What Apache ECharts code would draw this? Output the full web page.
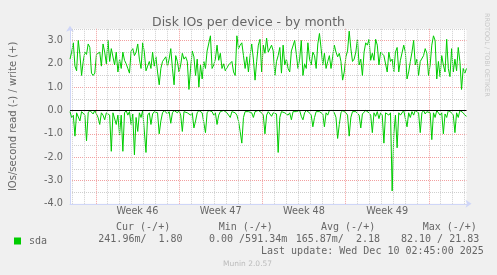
<!DOCTYPE html>
<html>
<head>
<meta charset="utf-8">
<script src="https://cdn.jsdelivr.net/npm/echarts@6/dist/echarts.min.js"></script>
<style>
html,body{margin:0;padding:0;background:#F0F0F0;}
#c{width:497px;height:275px;}
</style>
</head>
<body>
<div id="c"></div>
<script>
// time axis in hours relative to Monday of week 46 (Nov 10 2025 00:00)
const T0 = -52;            // first sample time (h)
const STEP = 10 / 3;       // sample spacing (h)
const X_MIN = -52, X_MAX = 748;

// write IOs/s (+)
const writeIOs = [
  2.2, 2.5, 2.9, 1.9, 1.7, 3.0, 2.4, 1.5, 2.1, 2.5,
  2.4, 2.85, 2.7, 1.6, 1.5, 1.6, 2.4, 2.4, 2.5, 1.9,
  2.85, 2.5, 2.0, 3.0, 2.1, 2.65, 2.7, 1.95, 2.5, 1.65,
  2.2, 1.8, 2.5, 2.15, 2.0, 1.8, 1.6, 2.55, 2.65, 2.35,
  2.5, 2.85, 2.2, 1.8, 2.9, 2.5, 1.7, 1.9, 2.1, 1.8,
  2.5, 1.9, 2.3, 1.65, 1.1, 1.8, 2.1, 2.2, 2.3, 1.9,
  2.2, 2.65, 1.8, 1.1, 2.35, 2.1, 1.65, 1.95, 2.45, 2.2,
  2.3, 2.1, 0.9, 1.8, 2.55, 2.3, 1.5, 2.2, 1.0, 1.95,
  1.35, 2.1, 1.8, 2.55, 2.5, 3.2, 1.8, 1.95, 2.2, 2.8,
  2.15, 2.45, 1.8, 2.0, 1.7, 1.65, 1.95, 1.95, 2.1, 1.65,
  1.5, 3.2, 2.65, 2.8, 2.9, 2.35, 1.8, 2.3, 1.65, 2.35,
  2.85, 2.2, 1.3, 2.1, 2.8, 3.05, 1.65, 2.8, 2.45, 3.1,
  2.5, 2.45, 2.8, 2.55, 1.5, 2.1, 2.35, 2.7, 1.6, 2.8,
  1.95, 2.2, 1.8, 1.65, 2.55, 2.5, 3.0, 2.4, 1.8, 2.2,
  3.0, 1.5, 2.0, 1.8, 2.9, 2.2, 1.95, 2.5, 2.35, 1.8,
  2.85, 3.3, 2.65, 1.95, 2.45, 1.8, 2.1, 2.35, 1.8, 2.3,
  2.8, 2.5, 2.3, 2.45, 2.1, 1.3, 1.65, 2.3, 2.55, 3.4,
  2.65, 2.1, 2.2, 2.5, 3.05, 1.95, 2.2, 1.5, 2.5, 2.9,
  2.8, 3.05, 2.15, 2.45, 2.15, 3.05, 2.8, 1.95, 2.5, 2.55,
  2.35, 2.4, 1.65, 2.5, 2.1, 2.2, 1.65, 2.5, 2.7, 1.65,
  2.15, 2.15, 2.8, 2.5, 1.35, 1.65, 2.1, 2.5, 3.0, 1.95,
  2.2, 1.5, 2.1, 2.15, 2.35, 2.65, 2.45, 1.5, 1.95, 2.8,
  3.2, 3.0, 1.35, 2.1, 1.45, 2.35, 1.95, 1.65, 3.05, 1.8,
  1.45, 2.65, 1.65, 2.2, 1.7, 2.7, 2.1, 0.9, 1.8, 1.6,
  1.8
];

// read IOs/s (-), drawn negated
const readIOs = [
  -0.05, -0.3, -0.2, -1.1, -0.1, -0.15, -0.45, -0.05, -0.1, -0.2,
  -1.3, -0.1, 0, -0.05, -0.15, 0, -0.05, -0.3, -0.6, -0.1,
  -0.2, -0.4, -0.1, -0.05, -0.2, -1.75, -0.1, -0.05, -0.6, -0.2,
  -1.05, -0.2, -1.75, -0.1, 0, -0.2, -0.05, -0.6, -0.15, -1.9,
  -0.3, -0.9, -0.1, -0.3, 0, -0.05, -1.8, -0.2, -0.1, -0.6,
  -0.15, -0.05, 0, -0.1, -1.0, -0.45, -0.1, 0, -0.05, -0.15,
  -0.05, -0.55, -0.1, 0, -0.05, -0.1, 0, -0.2, -0.9, -0.05,
  0, -0.1, -0.05, -0.2, -0.1, -0.75, -0.45, -0.1, 0, -0.05,
  -0.1, -0.15, -0.95, -0.1, 0, 0, -0.05, -0.2, -0.1, -0.6,
  -0.2, -0.05, 0, 0, -0.05, -0.1, -0.15, -0.3, -0.05, 0,
  -0.1, -0.2, -0.45, -0.9, -1.4, -0.3, -0.05, -0.1, -0.05, 0,
  -0.1, -0.3, -0.05, 0, 0, -0.05, -0.1, -0.2, -1.0, -0.2,
  -0.05, 0, -0.25, -0.1, -0.05, -0.15, -1.8, -0.3, -0.05, 0,
  -0.1, -0.05, -0.2, -0.1, -0.4, -0.05, 0, -0.05, -0.1, 0,
  -0.25, -0.4, -0.1, 0, -0.05, -0.1, -0.2, -0.7, -0.3, -0.05,
  0, -0.05, -0.1, -0.15, -0.7, -0.1, -0.2, 0, -0.05, 0,
  -0.1, -0.3, -1.2, -0.6, -0.1, 0, -0.05, -0.1, -0.2, -1.1,
  -0.3, -0.05, 0, -0.05, -0.1, -0.2, -0.75, -0.15, -0.1, 0,
  -0.05, -0.1, -0.2, -0.95, -0.1, -0.25, -0.05, -0.35, -0.1, -0.2,
  -1.4, -0.1, -0.05, -0.2, -0.1, -3.45, -1.0, -0.2, -1.6, -0.1,
  -0.2, -0.15, 0, -0.05, -0.7, -0.1, -0.3, -0.05, -0.2, 0,
  -0.05, -0.1, -0.95, -0.1, 0, -0.15, -0.05, 0, -0.1, -1.25,
  -0.1, -0.3, 0, -0.05, -0.2, -0.1, -1.0, -0.15, -0.3, 0,
  -0.05, -0.1, -0.2, -0.95, -0.1, -0.3, 0, -0.05, -0.1, -0.2,
  -0.25
];

const weekStarts = [0, 168, 336, 504, 672];
const weekLabels = ['Week 46', 'Week 47', 'Week 48', 'Week 49'];
const weekCenters = [84, 252, 420, 588];
const dayLines = [];
for (let h = -48; h <= 744; h += 24) if (weekStarts.indexOf(h) < 0) dayLines.push(h);

const legendHeader = ['Cur (-/+)', 'Min (-/+)', 'Avg (-/+)', 'Max (-/+)'];
const legendValues = ['241.96m/  1.80', '0.00 /591.34m', '165.87m/  2.18', '82.10 / 21.83'];
const lastUpdate = 'Last update: Wed Dec 10 02:45:00 2025';

const GREEN = '#00CC00';
const FONT = '#666666';
const AXIS = '#CFD6F8';
const SANS = '"DejaVu Sans", sans-serif';
const MONO = '"DejaVu Sans Mono", monospace';

const toXY = arr => arr.map((v, i) => [T0 + i * STEP, v]);

const chart = echarts.init(document.getElementById('c'), null, {renderer: 'canvas'});

const headerX = [116, 218.7, 321, 422.7];
const valueX = [98.3, 209, 295.7, 401];
const graphics = [];
legendHeader.forEach((t, i) => graphics.push({type: 'text', left: headerX[i], top: 222, style: {text: t, font: '10px ' + MONO, fill: FONT}}));
legendValues.forEach((t, i) => graphics.push({type: 'text', left: valueX[i], top: 234, style: {text: t, font: '10px ' + MONO, fill: FONT}}));
graphics.push({type: 'text', left: 261, top: 246.5, style: {text: lastUpdate, font: '10px ' + MONO, fill: FONT}});
graphics.push({type: 'text', left: 223, top: 260, style: {text: 'Munin 2.0.57', font: '7.5px ' + SANS, fill: '#BBBBBB'}});
graphics.push({type: 'text', x: 490, y: 13, rotation: -Math.PI / 2, style: {text: 'RRDTOOL / TOBI OETIKER', font: '6.5px ' + SANS, fill: '#C8C8C8'}});

// invisible carrier series for grid lines / week labels (hidden line, same data)
const carrier = (z, markLine) => ({
  type: 'line', data: toXY(writeIOs), z: z, silent: true, showSymbol: false, symbol: 'none',
  lineStyle: {color: 'rgba(0,0,0,0)'}, itemStyle: {color: 'rgba(0,0,0,0)'}, tooltip: {show: false}, markLine: markLine
});

chart.setOption({
  animation: false,
  backgroundColor: '#F0F0F0',
  title: {
    text: 'Disk IOs per device - by month',
    left: 'center', top: 11,
    textStyle: {fontFamily: SANS, fontSize: 12.5, fontWeight: 'normal', color: FONT}
  },
  legend: {
    data: ['sda'], left: 9, top: 231, icon: 'rect', itemWidth: 7, itemHeight: 7,
    textStyle: {fontFamily: MONO, fontSize: 10, color: FONT, padding: [0, 0, 0, 3]},
    selectedMode: false
  },
  grid: {left: 66.5, top: 28.8, width: 400, height: 175, show: true, backgroundColor: '#FFFFFF', borderWidth: 0},
  xAxis: {
    type: 'value', min: X_MIN, max: X_MAX,
    axisLabel: {show: false}, axisTick: {show: false}, splitLine: {show: false},
    axisLine: {show: true, onZero: false, lineStyle: {color: AXIS, width: 1}, symbol: ['none', 'arrow'], symbolSize: [6, 6], symbolOffset: [0, 5]}
  },
  yAxis: {
    type: 'value', min: -4, max: 3.5, interval: 0.5,
    name: 'IOs/second read (-) / write (+)', nameLocation: 'middle', nameGap: 52,
    nameTextStyle: {fontFamily: SANS, fontSize: 10, color: FONT},
    axisLabel: {fontFamily: SANS, fontSize: 9.7, color: FONT, margin: 7,
      formatter: v => Number.isInteger(v) ? v.toFixed(1) : ''},
    axisTick: {show: false},
    axisLine: {show: true, onZero: false, lineStyle: {color: AXIS, width: 1}, symbol: ['none', 'arrow'], symbolSize: [6, 6], symbolOffset: [0, 3]},
    splitLine: {show: true, lineStyle: {type: [1, 1], width: 1, color: ['#F2A0A0', '#CFCFCF']}}
  },
  graphic: graphics,
  series: [
    carrier(1, {
      silent: true, symbol: 'none', animation: false,
      label: {show: false},
      data: dayLines.map(h => ({xAxis: h, lineStyle: {color: '#CFCFCF', type: [1, 1], width: 1}}))
        .concat(weekStarts.map(h => ({xAxis: h, lineStyle: {color: '#F2A0A0', type: [1, 1], width: 1}})))
    }),
    carrier(1, {
      silent: true, symbol: 'none', animation: false,
      lineStyle: {color: 'rgba(0,0,0,0)', width: 1},
      label: {show: true, position: 'start', distance: 3, formatter: '{b}',
        fontFamily: SANS, fontSize: 9.7, color: FONT, opacity: 1},
      emphasis: {disabled: true},
      data: weekCenters.map((h, i) => ({xAxis: h, name: weekLabels[i]}))
    }),
    {
      name: 'sda', type: 'line', data: toXY(writeIOs), z: 2,
      showSymbol: false, symbol: 'none', lineStyle: {color: GREEN, width: 1}, itemStyle: {color: GREEN}
    },
    {
      name: 'sda', type: 'line', data: toXY(readIOs), z: 2,
      showSymbol: false, symbol: 'none', lineStyle: {color: GREEN, width: 1}, itemStyle: {color: GREEN}
    },
    carrier(3, {
      silent: true, symbol: 'none', animation: false, label: {show: false},
      data: [{yAxis: 0, lineStyle: {color: '#000000', type: 'solid', width: 1}}]
    })
  ]
});
</script>
</body>
</html>
